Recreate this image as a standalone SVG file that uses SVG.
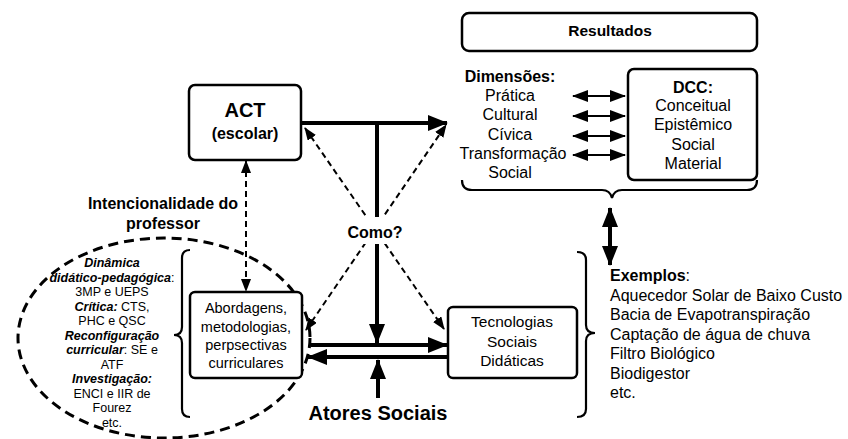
<svg xmlns="http://www.w3.org/2000/svg" width="848" height="439" viewBox="0 0 848 439">
<style>
text{font-family:"Liberation Sans",Arial,sans-serif;fill:#000}
.box{fill:#fff;stroke:#000;stroke-width:2.5}
.thick{stroke:#000;stroke-width:4;fill:none}
.dash{stroke:#000;stroke-width:2;stroke-dasharray:6,4;fill:none}
.med{stroke:#000;stroke-width:2;fill:none}
.brace{stroke:#000;stroke-width:2.2;fill:none}
.b{font-weight:bold}
.bi{font-weight:bold;font-style:italic}
.c{text-anchor:middle}
</style>
<defs>
<marker id="big" markerUnits="userSpaceOnUse" markerWidth="20" markerHeight="16" refX="19" refY="8" orient="auto-start-reverse"><path d="M0,0 L20,8 L0,16 z" fill="#000"/></marker>
<marker id="mid" markerUnits="userSpaceOnUse" markerWidth="16" markerHeight="12" refX="15" refY="6" orient="auto-start-reverse"><path d="M0,0 L16,6 L0,12 z" fill="#000"/></marker>
<marker id="sm" markerUnits="userSpaceOnUse" markerWidth="13" markerHeight="10" refX="12" refY="5" orient="auto-start-reverse"><path d="M0,0 L13,5 L0,10 z" fill="#000"/></marker>
</defs>

<g id="ellipse-intencionalidade">
<ellipse cx="164" cy="338" rx="146" ry="100" fill="none" stroke="#000" stroke-width="3" stroke-dasharray="10,6"/>
</g>

<g id="connectors">
<path class="thick" d="M301,123 L447,123" marker-end="url(#big)"/>
<path class="thick" d="M377,123 L377,343" marker-end="url(#big)"/>
<path class="thick" d="M378,398 L378,360" marker-end="url(#big)"/>
<path class="thick" d="M311,345 L447,345" marker-end="url(#big)"/>
<path class="thick" d="M448,357 L308,357" marker-end="url(#big)"/>
<path class="dash" d="M305,128 L444,329" marker-start="url(#sm)" marker-end="url(#sm)"/>
<path class="dash" d="M306,330 L446,125" marker-start="url(#sm)" marker-end="url(#sm)"/>
<path class="dash" d="M246,161 L246,291" marker-start="url(#sm)" marker-end="url(#sm)"/>
<path class="med" d="M573,96 L625,96" marker-start="url(#mid)" marker-end="url(#mid)"/>
<path class="med" d="M573,116 L625,116" marker-start="url(#mid)" marker-end="url(#mid)"/>
<path class="med" d="M573,136 L625,136" marker-start="url(#mid)" marker-end="url(#mid)"/>
<path class="med" d="M573,155 L625,155" marker-start="url(#mid)" marker-end="url(#mid)"/>
<path class="thick" d="M610,208 L610,265" marker-start="url(#big)" marker-end="url(#big)"/>
<path class="brace" d="M190,250 Q182,250 182,258 L182,327 Q182,335 174,335 Q182,335 182,343 L182,409 Q182,417 190,417"/>
<path class="brace" d="M577,252 Q586,252 586,260 L586,325 Q586,333 595,333 Q586,333 586,341 L586,409 Q586,417 577,417"/>
<path class="brace" d="M462,180 Q462,190 472,190 L602,190 Q610,190 612,198 Q614,190 622,190 L747,190 Q757,190 757,180"/>
</g>

<g id="como">
<rect x="344" y="217" width="64" height="27" fill="#fff"/>
<text class="b c" x="375" y="238" font-size="16">Como?</text>
</g>

<g id="act">
<rect class="box" x="189" y="85" width="112" height="75" rx="6"/>
<text class="b c" x="245" y="117" font-size="20">ACT</text>
<text class="b c" x="245" y="139" font-size="16">(escolar)</text>
</g>

<g id="abordagens">
<rect class="box" x="190" y="292" width="112" height="86" rx="5"/>
<text class="c" x="246" y="313" font-size="14.5">Abordagens,</text>
<text class="c" x="246" y="332" font-size="14.5">metodologias,</text>
<text class="c" x="246" y="350" font-size="14.5">perpsectivas</text>
<text class="c" x="246" y="368" font-size="14.5">curriculares</text>
</g>

<g id="tecnologias">
<rect class="box" x="448" y="307" width="129" height="71" rx="5"/>
<text class="c" x="512" y="327" font-size="15.5">Tecnologias</text>
<text class="c" x="512" y="347" font-size="15.5">Sociais</text>
<text class="c" x="512" y="366" font-size="15.5">Didáticas</text>
</g>

<g id="resultados">
<rect class="box" x="462" y="13" width="295" height="38" rx="7"/>
<text class="b c" x="610" y="36" font-size="15.5">Resultados</text>
</g>

<g id="dimensoes">
<text class="b c" x="510" y="82" font-size="16">Dimensões:</text>
<text class="c" x="510" y="101" font-size="16">Prática</text>
<text class="c" x="510" y="120" font-size="16">Cultural</text>
<text class="c" x="510" y="140" font-size="16">Cívica</text>
<text class="c" x="513" y="159" font-size="16">Transformação</text>
<text class="c" x="510" y="178" font-size="16">Social</text>
</g>

<g id="dcc">
<rect class="box" x="628" y="69" width="129" height="111" rx="6"/>
<text class="b c" x="693" y="93" font-size="16">DCC:</text>
<text class="c" x="693" y="111" font-size="16">Conceitual</text>
<text class="c" x="693" y="130" font-size="16">Epistêmico</text>
<text class="c" x="693" y="150" font-size="16">Social</text>
<text class="c" x="693" y="169" font-size="16">Material</text>
</g>

<g id="exemplos">
<text x="610" y="281" font-size="16"><tspan class="b">Exemplos</tspan>:</text>
<text x="610" y="300.5" font-size="16">Aquecedor Solar de Baixo Custo</text>
<text x="610" y="320" font-size="16">Bacia de Evapotranspiração</text>
<text x="610" y="339.5" font-size="16">Captação de água de chuva</text>
<text x="610" y="359" font-size="16">Filtro Biológico</text>
<text x="610" y="378.5" font-size="16">Biodigestor</text>
<text x="610" y="398" font-size="16">etc.</text>
</g>

<g id="intencionalidade">
<text class="b c" x="163" y="209" font-size="16">Intencionalidade do</text>
<text class="b c" x="163" y="229" font-size="16">professor</text>
</g>

<g id="atores-sociais">
<text class="b c" x="378" y="420" font-size="20">Atores Sociais</text>
</g>

<g id="lista-dinamica" font-size="12.5">
<text class="c" x="112" y="267"><tspan class="bi">Dinâmica</tspan></text>
<text class="c" x="112" y="281.5"><tspan class="bi">didático-pedagógica</tspan>:</text>
<text class="c" x="112" y="296">3MP e UEPS</text>
<text class="c" x="112" y="310.5"><tspan class="bi">Crítica:</tspan> CTS,</text>
<text class="c" x="112" y="325">PHC e QSC</text>
<text class="c" x="112" y="339.5"><tspan class="bi">Reconfiguração</tspan></text>
<text class="c" x="112" y="354"><tspan class="bi">curricular</tspan>: SE e</text>
<text class="c" x="112" y="368.5">ATF</text>
<text class="c" x="112" y="383"><tspan class="bi">Investigação:</tspan></text>
<text class="c" x="112" y="397.5">ENCI e IIR de</text>
<text class="c" x="112" y="412">Fourez</text>
<text class="c" x="112" y="426.5">etc.</text>
</g>
</svg>
